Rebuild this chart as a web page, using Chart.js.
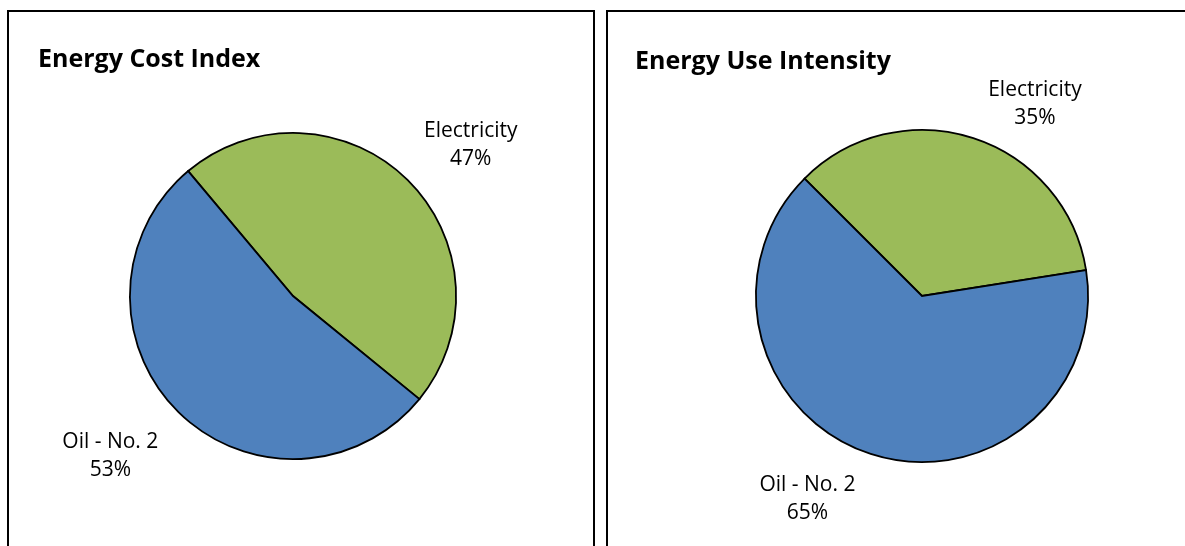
<!DOCTYPE html>
<html lang="en">
<head>
    <meta charset="UTF-8">
    <title>Energy Cost Index / Energy Use Intensity</title>
    <script src="https://cdn.jsdelivr.net/npm/chart.js@4.4.1/dist/chart.umd.js"></script>
    <style>
        body { margin: 0; background: #fff; width: 1185px; height: 546px; overflow: hidden; position: relative; }
        canvas { position: absolute; top: 0; }
        .panel { position: absolute; top: 10px; height: 560px; border: 2px solid #000; box-sizing: border-box; pointer-events: none; }
    </style>
</head>
<body>
    <canvas id="cost-chart" width="600" height="546" style="left:0"></canvas>
    <canvas id="use-chart" width="585" height="546" style="left:600px"></canvas>
    <div class="panel" style="left:7px; width:588px"></div>
    <div class="panel" style="left:606px; width:600px"></div>

    <script>
        const categories = ['Electricity', 'Oil - No. 2'];
        const costShares = [47, 53];   // Energy Cost Index, %
        const useShares = [35, 65];    // Energy Use Intensity, %
        const sliceColors = ['#9BBB59', '#4F81BD'];

        // label anchors, in units of the pie radius from its centre
        const costLabelPos = [[1.09, -0.94], [-1.12, 0.97]];
        const useLabelPos = [[0.68, -1.17], [-0.69, 1.21]];

        const labelFont = '21px "Open Sans", sans-serif';
        const titleFont = 'bold 25px "Open Sans", sans-serif';

        // draws the heading and the category / percent labels
        const pieText = {
            id: 'pieText',
            afterDraw(chart, args, opts) {
                const ctx = chart.ctx;
                const arc = chart.getDatasetMeta(0).data[0];
                const cx = arc.x, cy = arc.y, r = arc.outerRadius;
                ctx.save();
                ctx.fillStyle = '#000';
                ctx.font = titleFont;
                ctx.textAlign = 'left';
                ctx.textBaseline = 'alphabetic';
                ctx.fillText(opts.title, opts.titleX, opts.titleY);

                ctx.font = labelFont;
                ctx.textAlign = 'center';
                const values = chart.data.datasets[0].data;
                chart.data.labels.forEach((name, i) => {
                    const x = cx + opts.labelPos[i][0] * r;
                    const y = cy + opts.labelPos[i][1] * r;
                    ctx.fillText(name, x, y - 6);
                    ctx.fillText(values[i] + '%', x, y + 22);
                });
                ctx.restore();
            }
        };

        function makePie(id, values, rotation, padding, text) {
            return new Chart(document.getElementById(id), {
                type: 'pie',
                data: {
                    labels: categories,
                    datasets: [{
                        data: values,
                        backgroundColor: sliceColors,
                        borderColor: '#000',
                        borderWidth: 1.8,
                        borderJoinStyle: 'miter'
                    }]
                },
                options: {
                    responsive: false,
                    animation: false,
                    rotation: rotation,
                    layout: { padding: padding },
                    plugins: {
                        legend: { display: false },
                        tooltip: { enabled: false },
                        pieText: text
                    }
                },
                plugins: [pieText]
            });
        }

        makePie('cost-chart', costShares, -40,
            { left: 129, right: 143, top: 132, bottom: 86 },
            { title: 'Energy Cost Index', titleX: 38, titleY: 67, labelPos: costLabelPos });

        makePie('use-chart', useShares, -45,
            { left: 155, right: 96, top: 129, bottom: 83 },
            { title: 'Energy Use Intensity', titleX: 35, titleY: 69, labelPos: useLabelPos });
    </script>
</body>
</html>
